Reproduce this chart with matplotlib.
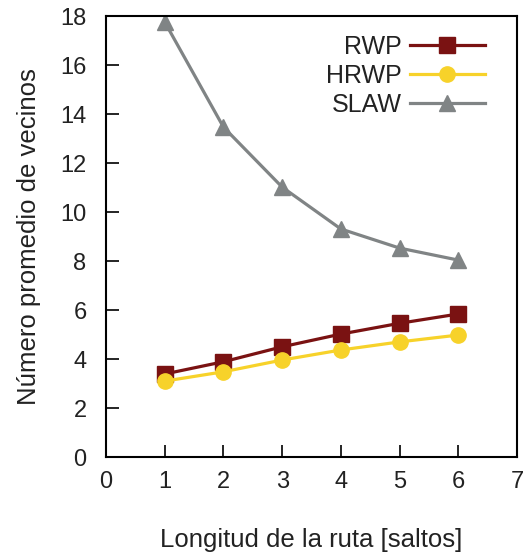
import numpy as np
from matplotlib import pyplot as plt

plt.rcParams['font.family'] = ['Liberation Sans', 'DejaVu Sans']

# data
hops = [1, 2, 3, 4, 5, 6]
rwp = [3.39, 3.89, 4.50, 5.02, 5.46, 5.84]
hrwp = [3.10, 3.48, 3.96, 4.37, 4.70, 4.98]
slaw = [17.76, 13.47, 11.02, 9.31, 8.53, 8.04]

fig = plt.figure(figsize=(5.3, 5.56), dpi=100)
ax = fig.add_axes([0.2, 0.178, 0.7755, 0.793])

ax.plot(hops, rwp, color='#7a1212', lw=2.3, marker='s', ms=11, label='RWP')
ax.plot(hops, hrwp, color='#f7d22a', lw=2.3, marker='o', ms=11, label='HRWP')
ax.plot(hops, slaw, color='#808485', lw=2.3, marker='^', ms=11, label='SLAW')

ax.set_xlim(0, 7)
ax.set_ylim(0, 18)
ax.set_xticks(range(0, 8))
ax.set_yticks(range(0, 19, 2))
ax.tick_params(direction='in', length=9, width=1.2, labelsize=17,
               labelcolor='#222222', top=False, right=False)
ax.tick_params(axis='x', pad=10)
ax.tick_params(axis='y', pad=14)
for s in ax.spines.values():
    s.set_linewidth(1.5)

ax.set_xlabel('Longitud de la ruta [saltos]', fontsize=18.5, labelpad=25,
              color='#222222')
ax.set_ylabel('Número promedio de vecinos', fontsize=18.5, labelpad=14,
              color='#222222')

leg = ax.legend(loc='upper right', bbox_to_anchor=(0.922, 0.957), frameon=False,
                markerfirst=False, fontsize=18, handlelength=3.0, borderpad=0,
                borderaxespad=0, labelspacing=0.2, handletextpad=0.32)
for t in leg.get_texts():
    t.set_color('#222222')

fig.savefig('out.png')
